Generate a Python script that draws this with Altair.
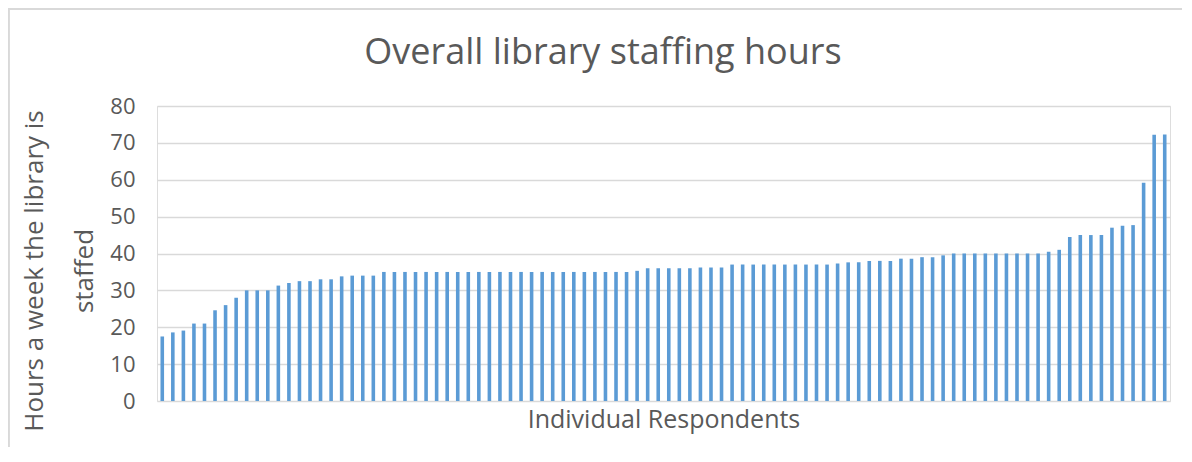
import altair as alt
import pandas as pd

respondents = list(range(1, 97))
hours = [
    17.5, 18.6, 19.1, 21, 21, 24.6, 26, 28, 30, 30,
    30, 31.3, 32, 32.5, 32.5, 33, 33, 33.8, 34, 34,
    34, 35, 35, 35, 35, 35, 35, 35, 35, 35,
    35, 35, 35, 35, 35, 35, 35, 35, 35, 35,
    35, 35, 35, 35, 35, 35.3, 36, 36, 36, 36,
    36, 36.2, 36.2, 36.2, 37, 37, 37, 37, 37, 37,
    37, 37, 37, 37, 37.3, 37.6, 37.6, 38, 38, 38,
    38.6, 38.6, 39, 39, 39.5, 40, 40, 40, 40, 40,
    40, 40, 40, 40, 40.5, 41, 44.5, 45, 45, 45,
    47, 47.5, 47.7, 59.2, 72.2, 72.3,
]
y_ticks = [0, 10, 20, 30, 40, 50, 60, 70, 80]
chart_title = "Overall library staffing hours"

df = pd.DataFrame({"respondent": respondents, "hours": hours})

W, H = 1013, 295
FONT = "Open Sans"
TXT = "#595959"

bars = alt.Chart(df).mark_bar(color="#5B9BD5").encode(
    x=alt.X("respondent:O", title="Individual Respondents",
            scale=alt.Scale(paddingInner=0.66, paddingOuter=0.33),
            axis=alt.Axis(labels=False, ticks=False, domain=False,
                          titleFontSize=25, titleFont=FONT, titleColor=TXT,
                          titleFontWeight="normal", titlePadding=6)),
    y=alt.Y("hours:Q", title=["Hours a week the library is", "staffed"],
            scale=alt.Scale(domain=[0, 80], nice=False),
            axis=alt.Axis(values=y_ticks, ticks=False, domain=False,
                          gridColor="#d9d9d9", gridWidth=1.5,
                          labelFontSize=22, labelFont=FONT, labelColor=TXT,
                          labelPadding=22,
                          titleFontSize=26, titleFont=FONT, titleColor=TXT,
                          titleFontWeight="normal", titleAngle=-90,
                          titleAlign="center", titleBaseline="top",
                          titleX=-136, titleY=H / 2 + 17, titleLineHeight=50)),
)

frame = alt.Chart(df).mark_rect(fillOpacity=0, stroke="#d9d9d9", strokeWidth=1.5).encode(
    x=alt.value(-148.5), x2=alt.value(1040), y=alt.value(-97), y2=alt.value(360)
)

title_txt = alt.Chart(pd.DataFrame({"t": [chart_title]})).mark_text(
    font=FONT, fontSize=36, color=TXT, align="center", baseline="alphabetic"
).encode(text="t:N", x=alt.value(446), y=alt.value(-42))

chart = alt.layer(frame, bars, title_txt).properties(
    width=W, height=H,
    autosize=alt.AutoSizeParams(type="none"),
    padding={"left": 149, "top": 98, "right": 12, "bottom": 46},
).configure_view(stroke=None).configure(background="white")

chart.save("out.html", embed_options={"renderer": "svg", "actions": False})
